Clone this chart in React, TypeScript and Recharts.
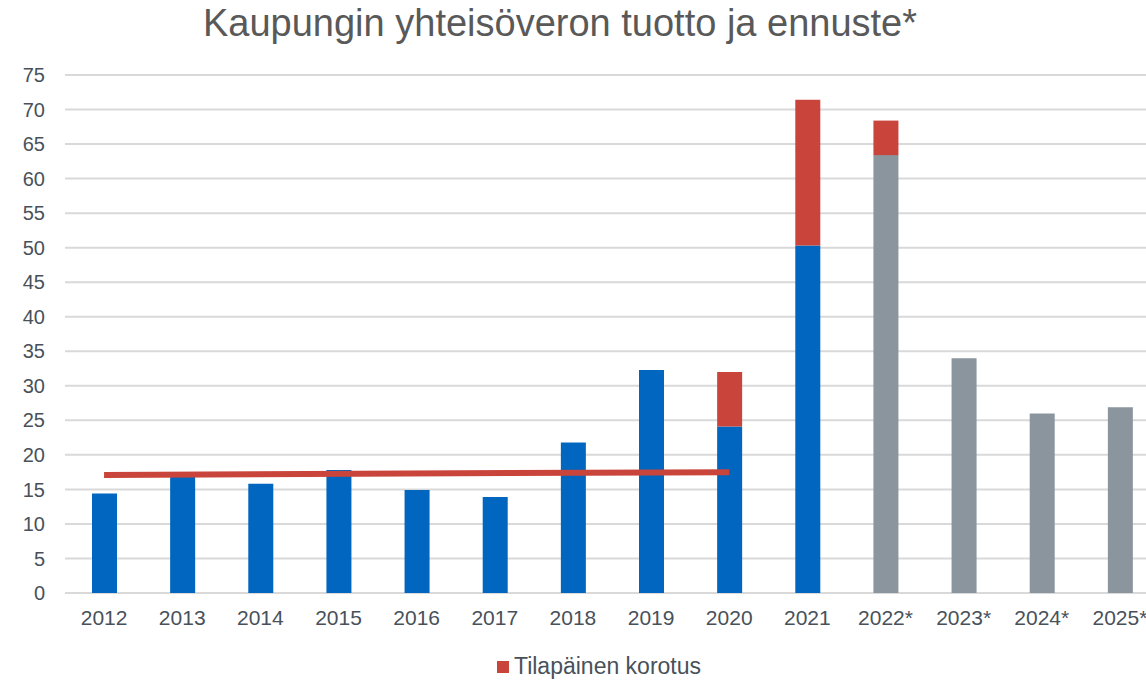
import { BarChart, Bar, XAxis, YAxis, CartesianGrid, ReferenceLine } from "recharts";

const years = ["2012", "2013", "2014", "2015", "2016", "2017", "2018", "2019", "2020", "2021", "2022*", "2023*", "2024*", "2025*"];
const actual = [14.4, 16.8, 15.8, 17.8, 14.9, 13.9, 21.8, 32.3, 24.1, 50.3, 0, 0, 0, 0];
const forecast = [0, 0, 0, 0, 0, 0, 0, 0, 0, 0, 63.4, 34.0, 26.0, 26.9];
const temporary = [0, 0, 0, 0, 0, 0, 0, 0, 7.9, 21.1, 5.0, 0, 0, 0];
const yTicks = [0, 5, 10, 15, 20, 25, 30, 35, 40, 45, 50, 55, 60, 65, 70, 75];
const trendStart = { x: "2012", y: 17.1 };
const trendEnd = { x: "2020", y: 17.5 };

const data = years.map((year, i) => ({
  year,
  actual: actual[i],
  forecast: forecast[i],
  temporary: temporary[i],
}));

const FONT = "'Liberation Sans', Arial, sans-serif";
const X_TICK = { fill: "#48515A", fontSize: 21, fontFamily: FONT };
const Y_TICK = { fill: "#48515A", fontSize: 20, fontFamily: FONT };

export default function App() {
  return (
    <div
      style={{
        position: "fixed",
        left: 0,
        top: 0,
        width: 1146,
        height: 681,
        overflow: "hidden",
        background: "#fff",
        fontFamily: FONT,
      }}
    >
      <div
        style={{
          position: "absolute",
          top: 2,
          left: 560,
          transform: "translateX(-50%)",
          whiteSpace: "nowrap",
          fontSize: 38,
          lineHeight: "normal",
          color: "#595959",
        }}
      >
        Kaupungin yhteisöveron tuotto ja ennuste*
      </div>

      <div style={{ position: "absolute", left: 0, top: 0 }}>
        <BarChart
          width={1164}
          height={641}
          data={data}
          margin={{ top: 75, right: 5, bottom: 0, left: 0 }}
        >
          <CartesianGrid vertical={false} stroke="#D9D9D9" strokeWidth={2} />
          <XAxis
            dataKey="year"
            axisLine={false}
            tickLine={false}
            tickSize={0}
            tickMargin={17}
            height={48}
            tick={X_TICK}
            interval={0}
          />
          <YAxis
            domain={[0, 75]}
            ticks={yTicks}
            axisLine={false}
            tickLine={false}
            tickSize={0}
            tickMargin={20}
            width={65}
            tick={Y_TICK}
            interval={0}
          />
          <Bar dataKey="actual" stackId="a" fill="#0066BF" barSize={25} isAnimationActive={false} />
          <Bar dataKey="forecast" stackId="a" fill="#8A959E" barSize={25} isAnimationActive={false} />
          <Bar dataKey="temporary" stackId="a" fill="#C9443A" barSize={25} isAnimationActive={false} />
          <ReferenceLine
            segment={[trendStart, trendEnd]}
            stroke="#C9443A"
            strokeWidth={6}
          />
        </BarChart>
      </div>

      <div
        style={{
          position: "absolute",
          top: 653,
          left: 0,
          width: 1198,
          display: "flex",
          justifyContent: "center",
          alignItems: "center",
          fontSize: 23,
          lineHeight: "normal",
          color: "#48515A",
        }}
      >
        <span
          style={{
            display: "inline-block",
            width: 12,
            height: 12,
            background: "#C9443A",
            marginRight: 5,
          }}
        />
        Tilapäinen korotus
      </div>
    </div>
  );
}
